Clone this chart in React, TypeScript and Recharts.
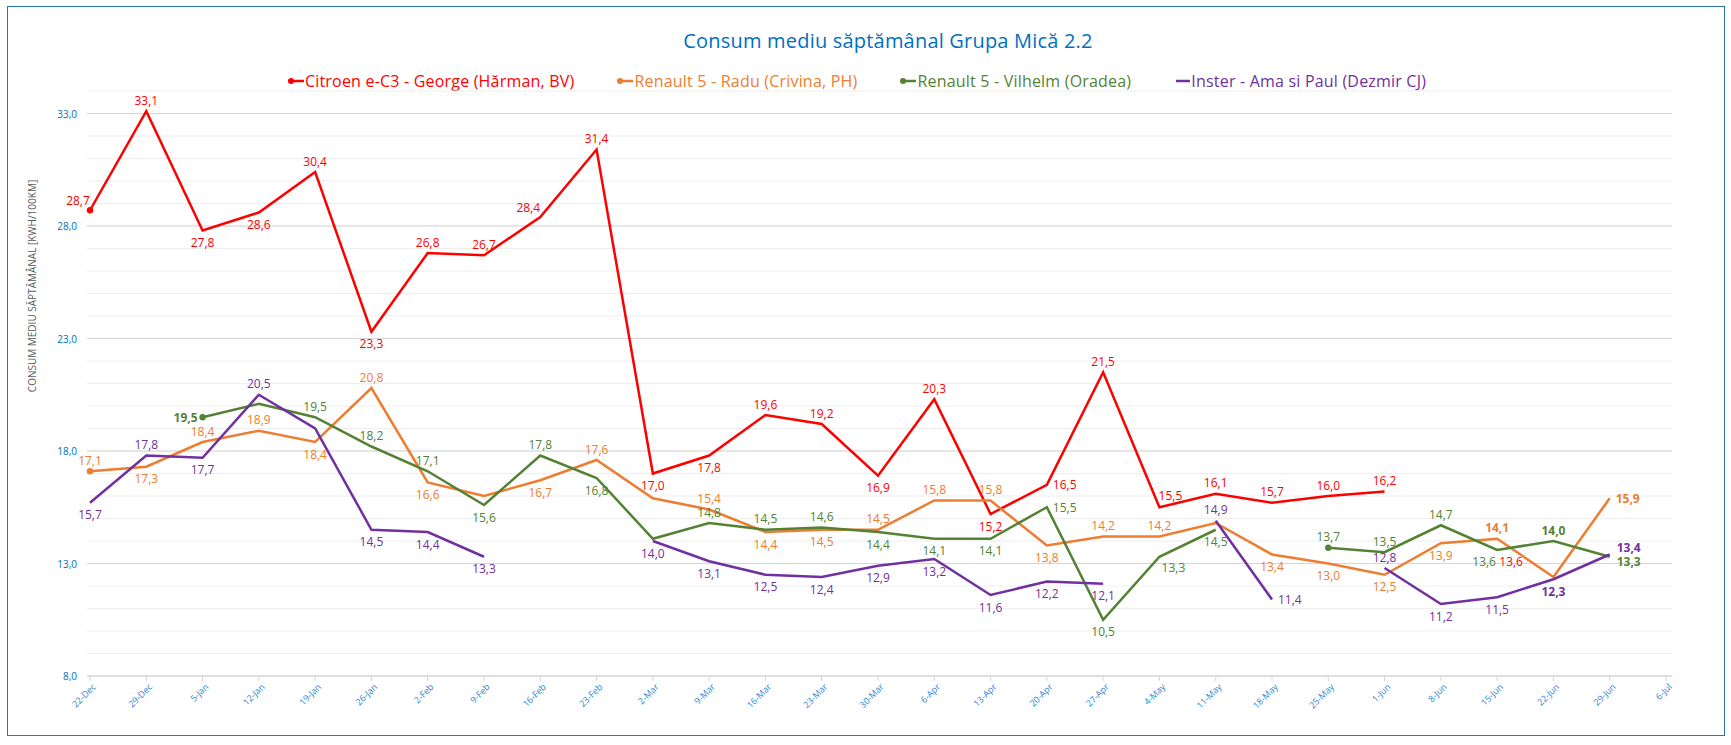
import React from 'react';
import { LineChart, Line, XAxis, YAxis, CartesianGrid, LabelList } from 'recharts';

// categorii (saptamani)
const weeks = [
  '22-Dec', '29-Dec', '5-Jan', '12-Jan', '19-Jan', '26-Jan', '2-Feb', '9-Feb', '16-Feb', '23-Feb',
  '2-Mar', '9-Mar', '16-Mar', '23-Mar', '30-Mar', '6-Apr', '13-Apr', '20-Apr', '27-Apr', '4-May',
  '11-May', '18-May', '25-May', '1-Jun', '8-Jun', '15-Jun', '22-Jun', '29-Jun', '6-Jul',
];

// consum mediu [kWh/100km]
const citroenGeorge = [
  28.7, 33.1, 27.8, 28.6, 30.4, 23.3, 26.8, 26.7, 28.4, 31.4,
  17.0, 17.8, 19.6, 19.2, 16.9, 20.3, 15.2, 16.5, 21.5, 15.5,
  16.1, 15.7, 16.0, 16.2, null, 13.6, null, null, null,
];
const renaultRadu = [
  17.1, 17.3, 18.4, 18.9, 18.4, 20.8, 16.6, 16.0, 16.7, 17.6,
  15.9, 15.4, 14.4, 14.5, 14.5, 15.8, 15.8, 13.8, 14.2, 14.2,
  14.8, 13.4, 13.0, 12.5, 13.9, 14.1, 12.4, 15.9, null,
];
const renaultVilhelm = [
  null, null, 19.5, 20.1, 19.5, 18.2, 17.1, 15.6, 17.8, 16.8,
  14.1, 14.8, 14.5, 14.6, 14.4, 14.1, 14.1, 15.5, 10.5, 13.3,
  14.5, null, 13.7, 13.5, 14.7, 13.6, 14.0, 13.3, null,
];
const insterAmaPaul = [
  15.7, 17.8, 17.7, 20.5, 19.0, 14.5, 14.4, 13.3, null, null,
  14.0, 13.1, 12.5, 12.4, 12.9, 13.2, 11.6, 12.2, 12.1, null,
  14.9, 11.4, null, 12.8, 11.2, 11.5, 12.3, 13.4, null,
];

// pozitia etichetelor (t/b/l/r...), majuscule = bold, '' = fara eticheta
const georgeLabels = [
  'tl', 't', 'b', 'b', 't', 'b', 't', 't', 'tl', 't',
  'b', 'b', 't', 't', 'b', 't', 'b', 'r', 't', 'tr',
  't', 't', 't', 't', '', 'br', '', '', '',
];
const raduLabels = [
  't', 'b', 't', 't', 'b', 't', 'b', '', 'b', 't',
  '', 't', 'b', 'b', 't', 't', 't', 'b', 't', 't',
  '', 'b', 'b', 'b', 'b', 'T', '', 'R', '',
];
const vilhelmLabels = [
  '', '', 'L', '', 't', 't', 't', 'b', 't', 'b',
  '', 't', 't', 't', 'b', 'b', 'b', 'r', 'b', 'br',
  'b', '', 't', 't', 't', 'bl', 'T', 'RB', '',
];
const insterLabels = [
  'b', 't', 'b', 't', '', 'b', 'b', 'b', '', '',
  'b', 'b', 'b', 'b', 'b', 'b', 'b', 'b', 'b', '',
  't', 'r', '', 't', 'b', 'b', 'B', 'RT', '',
];

const yTicks = [8, 9, 10, 11, 12, 13, 14, 15, 16, 17, 18, 19, 20, 21, 22, 23, 24, 25, 26, 27, 28, 29, 30, 31, 32, 33, 34];
const yMajorTicks = [8, 13, 18, 23, 28, 33];

const series = [
  { key: 'george', name: 'Citroen e-C3 - George (Hărman, BV)', color: '#FF0000', values: citroenGeorge, labels: georgeLabels, markers: true },
  { key: 'radu', name: 'Renault 5 - Radu (Crivina, PH)', color: '#ED7D31', values: renaultRadu, labels: raduLabels, markers: true },
  { key: 'vilhelm', name: 'Renault 5 - Vilhelm (Oradea)', color: '#548235', values: renaultVilhelm, labels: vilhelmLabels, markers: true },
  { key: 'inster', name: 'Inster - Ama si Paul (Dezmir CJ)', color: '#7030A0', values: insterAmaPaul, labels: insterLabels, markers: false },
];

const data = weeks.map((week, i) => {
  const row: Record<string, string | number | null> = { week };
  series.forEach((s) => { row[s.key] = s.values[i]; });
  return row;
});

const FONT = "'Open Sans', sans-serif";
const fmt = (v: number) => v.toFixed(1).replace('.', ',');

const placements: Record<string, { anchor: string; dx: number; dy: number }> = {
  t: { anchor: 'middle', dx: 0, dy: -11 },
  b: { anchor: 'middle', dx: 0, dy: 12 },
  l: { anchor: 'end', dx: -5, dy: 0 },
  r: { anchor: 'start', dx: 6, dy: 0 },
  tl: { anchor: 'middle', dx: -12, dy: -10 },
  tr: { anchor: 'middle', dx: 11, dy: -12 },
  br: { anchor: 'middle', dx: 14, dy: 11 },
  bl: { anchor: 'middle', dx: -13, dy: 11 },
  rt: { anchor: 'start', dx: 7, dy: -7 },
  rb: { anchor: 'start', dx: 7, dy: 5 },
};

const makeLabel = (labels: string[], color: string) => (props: any) => {
  const { index, value } = props;
  const x = props.x ?? props.viewBox?.x;
  const y = props.y ?? props.viewBox?.y;
  const code = labels[index];
  if (value == null || !code || x == null || y == null) return null;
  const p = placements[code.toLowerCase()];
  const bold = code !== code.toLowerCase();
  return (
    <text
      x={x + p.dx}
      y={y + p.dy}
      textAnchor={p.anchor}
      dominantBaseline="central"
      fontFamily={FONT}
      fontSize={12}
      fontWeight={bold ? 700 : 400}
      fill={color}
    >
      {fmt(Number(value))}
    </text>
  );
};

const makeDot = (values: (number | null)[], markers: boolean, color: string) => (props: any) => {
  const { cx, cy, index } = props;
  const start = markers && values[index] != null
    && (index === 0 || values[index - 1] == null) && values[index + 1] != null;
  if (!start) return <g key={`dot-${index}`} />;
  return <circle key={`dot-${index}`} cx={cx} cy={cy} r={3.2} fill={color} stroke="none" />;
};

const XTick = (props: any) => {
  const { x, y, payload } = props;
  const ax = x + 4;
  const ay = y + 2;
  return (
    <text
      x={ax}
      y={ay}
      transform={`rotate(-45 ${ax} ${ay})`}
      textAnchor="end"
      dominantBaseline="central"
      fontFamily={FONT}
      fontSize={9}
      fill="#2E86D1"
    >
      {payload.value}
    </text>
  );
};

const YTick = (props: any) => {
  const { x, y, payload } = props;
  if (!yMajorTicks.includes(payload.value)) return <g />;
  return (
    <text x={x} y={y} textAnchor="end" dominantBaseline="central" fontFamily={FONT} fontSize={10} fill="#0070C0">
      {fmt(payload.value)}
    </text>
  );
};

const LegendMarker = ({ color, dot }: { color: string; dot: boolean }) => (
  <svg width={16} height={10} style={{ marginRight: 1 }}>
    <line x1={2} y1={5} x2={16} y2={5} stroke={color} strokeWidth={2.5} />
    {dot && <circle cx={3} cy={5} r={3} fill={color} />}
  </svg>
);

const App: React.FC = () => {
  return (
    <div style={{ position: 'absolute', left: 0, top: 0, width: 1731, height: 745, background: '#fff', fontFamily: FONT }}>
      <div
        style={{
          position: 'absolute', left: 7, top: 6, width: 1718, height: 730,
          border: '1px solid #2E75B6', boxSizing: 'border-box',
        }}
      />
      <div
        style={{
          position: 'absolute', left: 488, top: 26, width: 800, textAlign: 'center',
          fontSize: 20, letterSpacing: 0.2, color: '#0070C0', lineHeight: '30px',
        }}
      >
        Consum mediu săptămânal Grupa Mică 2.2
      </div>
      <div
        style={{
          position: 'absolute', left: 0, top: 69, width: 1714, display: 'flex',
          justifyContent: 'center', gap: 43, fontSize: 16, letterSpacing: 0.2, lineHeight: '24px',
        }}
      >
        {series.map((s) => (
          <div key={s.key} style={{ display: 'flex', alignItems: 'center', color: s.color }}>
            <LegendMarker color={s.color} dot={s.markers} />
            <span>{s.name}</span>
          </div>
        ))}
      </div>
      <div
        style={{
          position: 'absolute', left: 32, top: 286, transform: 'translate(-50%, -50%) rotate(-90deg)',
          whiteSpace: 'nowrap', fontSize: 10, color: '#595959',
        }}
      >
        CONSUM MEDIU SĂPTĂMÂNAL [KWH/100KM]
      </div>
      <div style={{ position: 'absolute', left: 0, top: 0 }}>
        <LineChart width={1731} height={745} data={data} margin={{ top: 91, right: 59, bottom: 29, left: 47 }}>
          <CartesianGrid vertical={false} horizontalValues={yTicks} stroke="#EEEEEE" />
          <CartesianGrid vertical={false} horizontalValues={yMajorTicks} stroke="#D6D6D6" />
          <XAxis
            dataKey="week"
            interval={0}
            height={40}
            padding={{ left: 3, right: 6 }}
            axisLine={{ stroke: '#D6D6D6' }}
            tickLine={{ stroke: '#D6D6D6' }}
            tickSize={5}
            tick={<XTick />}
          />
          <YAxis
            type="number"
            domain={[8, 34]}
            ticks={yTicks}
            interval={0}
            width={40}
            axisLine={false}
            tickLine={false}
            tickSize={8}
            tickMargin={2}
            tick={<YTick />}
          />
          {series.map((s) => (
            <Line
              key={s.key}
              type="linear"
              dataKey={s.key}
              name={s.name}
              stroke={s.color}
              strokeWidth={2.5}
              dot={makeDot(s.values, s.markers, s.color)}
              activeDot={false}
              isAnimationActive={false}
            >
              <LabelList dataKey={s.key} content={makeLabel(s.labels, s.color)} />
            </Line>
          ))}
        </LineChart>
      </div>
    </div>
  );
};

export default App;
